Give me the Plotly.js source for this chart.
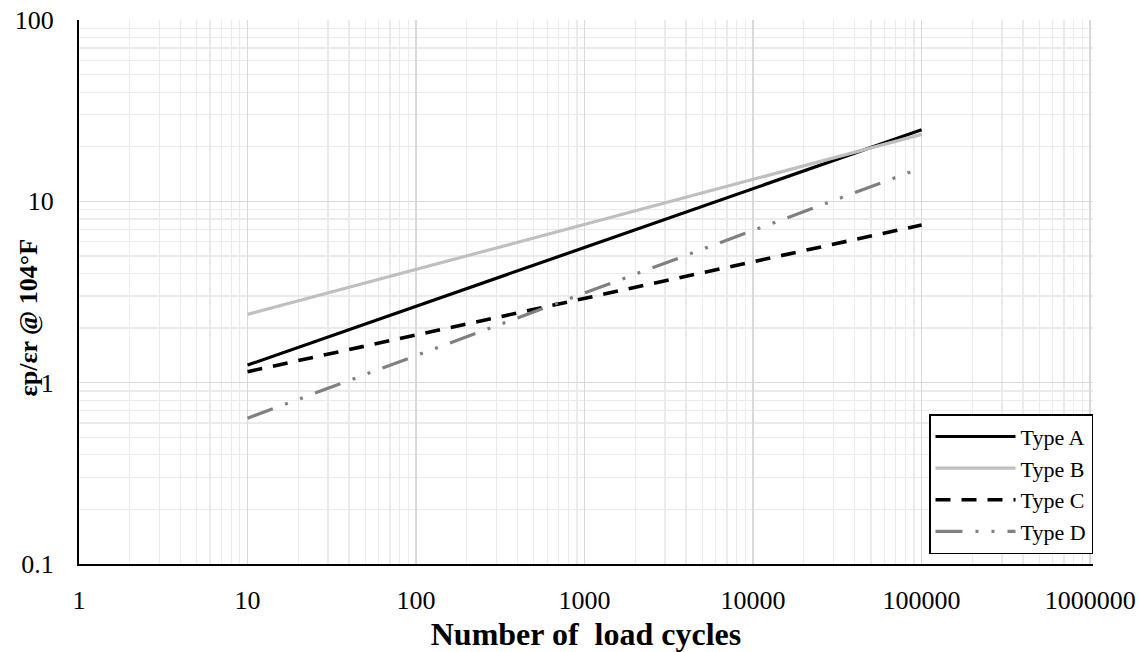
<!DOCTYPE html>
<html>
<head>
<meta charset="utf-8">
<script src="https://cdn.plot.ly/plotly-3.0.1.min.js"></script>
<style>html,body{margin:0;padding:0;background:#fff;}#chart{width:1141px;height:652px;}</style>
</head>
<body>
<div id="chart"></div>
<script>
// Data
const cycles = [10, 100, 1000, 10000, 100000];
const typeA = [1.25, 2.64, 5.57, 11.8, 24.8];
const typeB = [2.38, 4.22, 7.47, 13.2, 23.4];
const typeC = [1.15, 1.83, 2.91, 4.63, 7.4];
const typeD = [0.637, 1.41, 3.12, 6.92, 15.3];
const seriesNames = ['Type A', 'Type B', 'Type C', 'Type D'];
const xTickVals = [1, 10, 100, 1000, 10000, 100000, 1000000];
const xTickText = ['1', '10', '100', '1000', '10000', '100000', '1000000'];
const yTickVals = [0.1, 1, 10, 100];
const yTickText = ['0.1', '1', '10', '100'];
const xTitle = 'Number of  load cycles';
const yTitle = 'εp/εr @ 104°F';

const font = 'Liberation Serif, Times New Roman, serif';

const traces = [
  {x: cycles, y: typeA, name: seriesNames[0], mode: 'lines', line: {color: '#000000', width: 3.2}},
  {x: cycles, y: typeB, name: seriesNames[1], mode: 'lines', line: {color: '#bfbfbf', width: 3.2}},
  {x: cycles, y: typeC, name: seriesNames[2], mode: 'lines', line: {color: '#000000', width: 3.6, dash: '15px,11px'}},
  {x: cycles, y: typeD, name: seriesNames[3], mode: 'lines', line: {color: '#808080', width: 3.2, dash: '27px,13px,3px,13px,3px,13px'}}
];

const layout = {
  width: 1141, height: 652,
  margin: {l: 78.5, r: 48, t: 20, b: 88},
  paper_bgcolor: '#ffffff', plot_bgcolor: '#ffffff',
  font: {family: font, color: '#000000', size: 22},
  showlegend: true,
  legend: {
    x: 1.0, xanchor: 'right', y: 0.018, yanchor: 'bottom',
    bgcolor: '#ffffff', bordercolor: '#000000', borderwidth: 1.5,
    font: {family: font, size: 22, color: '#000000'},
    itemwidth: 80, tracegroupgap: 0
  },
  xaxis: {
    type: 'log', range: [0, 6.017],
    tickvals: xTickVals, ticktext: xTickText,
    tickfont: {family: font, size: 26, color: '#000000'},
    ticks: '', ticklabelstandoff: 12,
    showline: true, linecolor: '#000000', linewidth: 2,
    showgrid: true, gridcolor: '#d9d9d9', gridwidth: 1.3,
    minor: {dtick: 'D1', showgrid: true, gridcolor: '#ebebeb', gridwidth: 1.3, ticks: ''},
    zeroline: false,
    title: {text: xTitle, font: {family: font, size: 32, color: '#000000', weight: 'bold'}, standoff: 10}
  },
  yaxis: {
    type: 'log', range: [-1, 2],
    tickvals: yTickVals, ticktext: yTickText,
    tickfont: {family: font, size: 26, color: '#000000'},
    ticks: '', ticklabelstandoff: 18,
    showline: true, linecolor: '#000000', linewidth: 2,
    showgrid: true, gridcolor: '#d9d9d9', gridwidth: 1.3,
    minor: {dtick: 'D1', showgrid: true, gridcolor: '#ebebeb', gridwidth: 1.3, ticks: ''},
    zeroline: false
  },
  annotations: [{
    text: yTitle, textangle: -90, showarrow: false,
    xref: 'paper', yref: 'paper', x: -0.05, y: 0.452, xanchor: 'center', yanchor: 'middle',
    font: {family: font, size: 26, color: '#000000', weight: 'bold'}
  }]
};

Plotly.newPlot('chart', traces, layout, {displayModeBar: false, staticPlot: true});
</script>
</body>
</html>
